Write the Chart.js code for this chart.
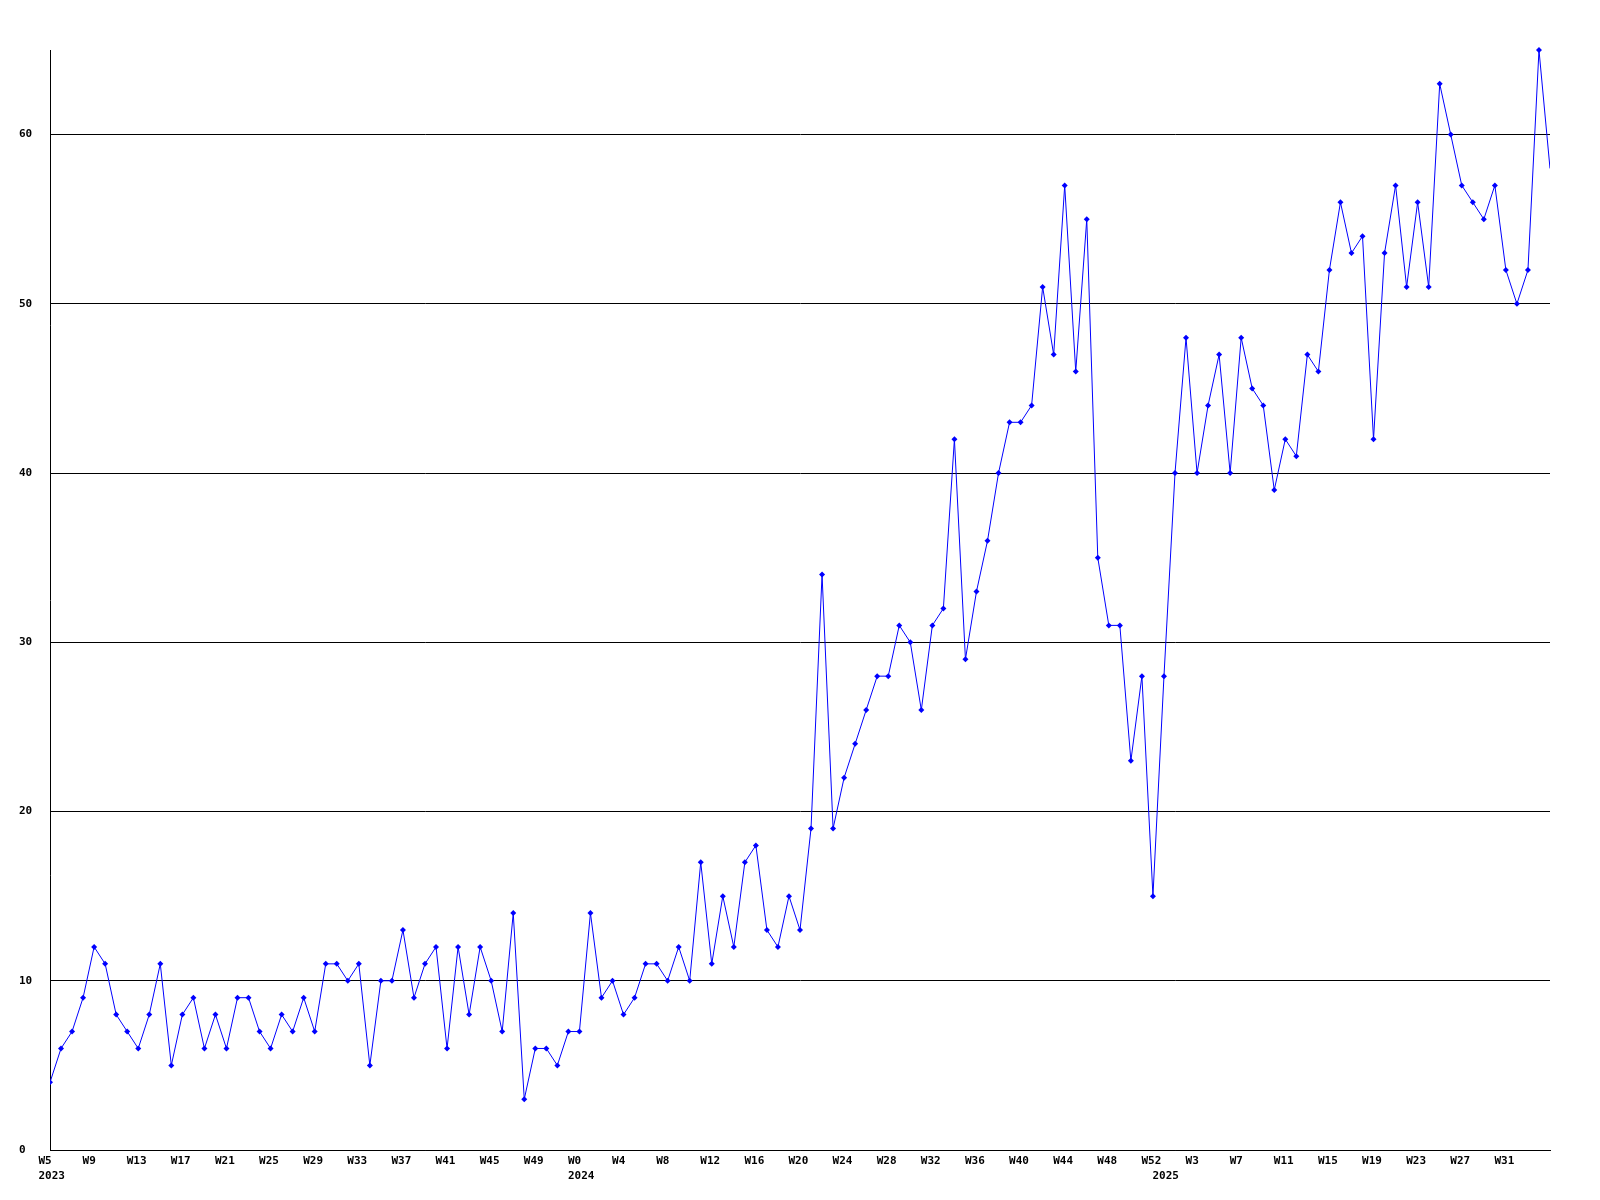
<!DOCTYPE html>
<html>
<head>
<meta charset="utf-8">
<script src="https://cdn.jsdelivr.net/npm/chart.js@4/dist/chart.umd.min.js"></script>
<style>
    html, body { margin: 0; padding: 0; background: #ffffff; }
    #wrap { width: 1600px; height: 1200px; }
</style>
</head>
<body>
<div id="wrap"><canvas id="weeklyChart" width="1600" height="1200"></canvas></div>
<script>
const weeks2023 = ['W5','W6','W7','W8','W9','W10','W11','W12','W13','W14','W15','W16','W17','W18','W19','W20',
    'W21','W22','W23','W24','W25','W26','W27','W28','W29','W30','W31','W32','W33','W34','W35','W36',
    'W37','W38','W39','W40','W41','W42','W43','W44','W45','W46','W47','W48','W49','W50','W51','W52'];
const weeks2024 = ['W0','W1','W2','W3','W4','W5','W6','W7','W8','W9','W10','W11','W12','W13','W14','W15','W16',
    'W17','W18','W19','W20','W21','W22','W23','W24','W25','W26','W27','W28','W29','W30','W31','W32',
    'W33','W34','W35','W36','W37','W38','W39','W40','W41','W42','W43','W44','W45','W46','W47','W48',
    'W49','W50','W51','W52'];
const weeks2025 = ['W0','W1','W2','W3','W4','W5','W6','W7','W8','W9','W10','W11','W12','W13','W14','W15','W16',
    'W17','W18','W19','W20','W21','W22','W23','W24','W25','W26','W27','W28','W29','W30','W31','W32',
    'W33','W34','W35'];
const years = ['2023', '2024', '2025'];

const values2023 = [4,6,7,9,12,11,8,7,6,8, 11,5,8,9,6,8,6,9,9,7, 6,8,7,9,7,11,11,10,11,5,
    10,10,13,9,11,12,6,12,8,12, 10,7,14,3,6,6,5,7];
const values2024 = [7,14,9,10,8,9,11,11,10,12, 10,17,11,15,12,17,18,13,12,15, 13,19,34,19,22,24,26,28,28,31,
    30,26,31,32,42,29,33,36,40,43, 43,44,51,47,57,46,55,35,31,31, 23,28,15];
const values2025 = [28,40,48,40,44,47,40,48,45,44, 39,42,41,47,46,52,56,53,54,42, 53,57,51,56,51,63,60,57,56,55,
    57,52,50,52,65,58];

const yTicks = [0, 10, 20, 30, 40, 50, 60];

const weekLabels = weeks2023.concat(weeks2024, weeks2025);
const values = values2023.concat(values2024, values2025);
const yearStarts = [0, weeks2023.length, weeks2023.length + weeks2024.length];
const lastIndex = values.length - 1;

// every 4th week gets a label, plus the first week of each year for the year text
// (the last, cut-off week gets none)
const shownTicks = weekLabels.map((_, i) => i)
    .filter(i => i < lastIndex && (i % 4 === 0 || yearStarts.includes(i)));

const labelFont = { family: '"DejaVu Sans Mono", "Liberation Mono", monospace', size: 11, weight: 'bold', lineHeight: '15px' };

const ctx = document.getElementById('weeklyChart').getContext('2d');
new Chart(ctx, {
    type: 'line',
    data: {
        labels: weekLabels,
        datasets: [{
            data: values,
            borderColor: '#0000ff',
            backgroundColor: '#0000ff',
            borderWidth: 1,
            tension: 0,
            fill: false,
            clip: { left: 0, top: 5, right: 0, bottom: 0 },
            pointStyle: 'rectRot',
            pointRadius: c => (c.dataIndex === lastIndex ? 0 : 3),
            pointBorderWidth: 0,
            pointBackgroundColor: '#0000ff'
        }]
    },
    options: {
        responsive: false,
        animation: false,
        events: [],
        layout: { padding: { left: 19, top: 50, right: 50, bottom: 0 } },
        plugins: {
            legend: { display: false },
            tooltip: { enabled: false }
        },
        scales: {
            x: {
                grid: { display: false, drawTicks: false },
                border: { display: true, color: '#000000', width: 1 },
                afterFit: scale => { scale.height = 50; },
                afterBuildTicks: scale => { scale.ticks = shownTicks.map(v => ({ value: v })); },
                ticks: {
                    autoSkip: false,
                    maxRotation: 0,
                    align: 'start',
                    labelOffset: -11.5,
                    padding: 4,
                    color: '#000000',
                    font: labelFont,
                    callback: function (value) {
                        const week = value % 4 === 0 ? weekLabels[value] : '';
                        const y = yearStarts.indexOf(value);
                        return [week, y >= 0 ? years[y] : ''];
                    }
                }
            },
            y: {
                min: 0,
                max: 65,
                grid: { color: '#000000', lineWidth: 1, drawTicks: false },
                border: { display: true, color: '#000000', width: 1 },
                afterFit: scale => { scale.width = 31; },
                afterBuildTicks: scale => { scale.ticks = yTicks.map(v => ({ value: v })); },
                ticks: {
                    crossAlign: 'far',
                    color: '#000000',
                    font: labelFont
                }
            }
        }
    }
});
</script>
</body>
</html>
